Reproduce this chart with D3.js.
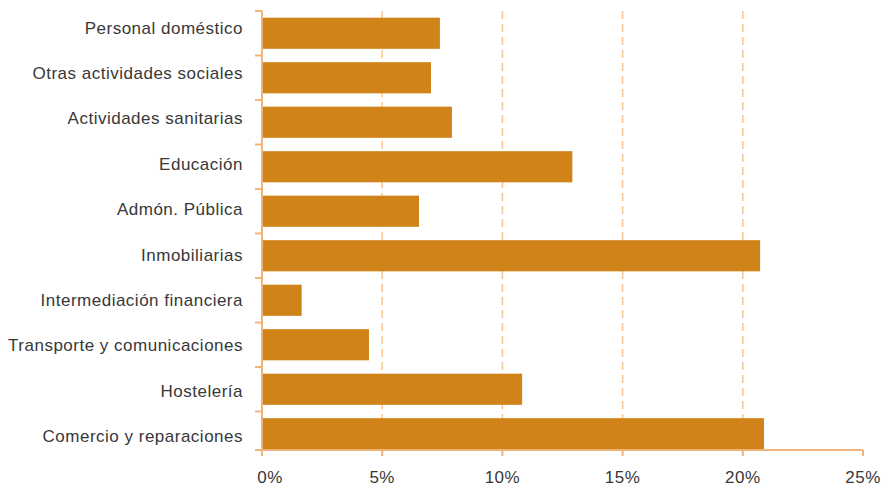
<!DOCTYPE html>
<html>
<head>
<meta charset="utf-8">
<script src="https://cdn.jsdelivr.net/npm/d3@7/dist/d3.min.js"></script>
<style>
  html, body { margin: 0; padding: 0; background: #ffffff; }
  svg { display: block; }
  text { font-family: "Liberation Sans", Arial, sans-serif; fill: #383838; }
</style>
</head>
<body>
<svg id="chart" width="885" height="487"></svg>
<script>
const categories = [
  "Personal doméstico",
  "Otras actividades sociales",
  "Actividades sanitarias",
  "Educación",
  "Admón. Pública",
  "Inmobiliarias",
  "Intermediación financiera",
  "Transporte y comunicaciones",
  "Hostelería",
  "Comercio y reparaciones"
];
const values = [7.40, 7.03, 7.90, 12.91, 6.53, 20.72, 1.65, 4.45, 10.82, 20.88];
const xTicks = [0, 5, 10, 15, 20, 25];
const xTickLabels = ["0%", "5%", "10%", "15%", "20%", "25%"];

(function () {
const svg = d3.select("#chart");
const plotLeft = 262, plotRight = 863, plotTop = 11, axisY = 450, bandBottom = 456;

const x = d3.scaleLinear().domain([0, 25]).range([plotLeft, plotRight]);
const y = d3.scaleBand().domain(categories).range([plotTop, bandBottom])
  .paddingInner(0.3).paddingOuter(0.15);
// label rows in the source are spaced slightly differently from the bars
const yLabel = d3.scaleBand().domain(categories).range([5, 459]);

const axisColor = "#f0b479";
const gridColor = "#f5c899";
const barColor = "#cf8318";

// gridlines
svg.append("g").selectAll("line")
  .data(xTicks.filter(d => d > 0 && d < 25))
  .join("line")
  .attr("x1", d => x(d)).attr("x2", d => x(d))
  .attr("y1", plotTop).attr("y2", axisY)
  .attr("stroke", gridColor).attr("stroke-width", 1.6)
  .attr("stroke-dasharray", "8,5");

// bars
svg.append("g").selectAll("rect")
  .data(categories)
  .join("rect")
  .attr("x", x(0))
  .attr("y", d => y(d))
  .attr("width", (d, i) => x(values[i]) - x(0))
  .attr("height", y.bandwidth())
  .attr("fill", barColor);

// y axis line and ticks
const yAxisG = svg.append("g");
yAxisG.append("line")
  .attr("x1", plotLeft).attr("x2", plotLeft)
  .attr("y1", plotTop).attr("y2", axisY)
  .attr("stroke", axisColor).attr("stroke-width", 2);
const yTickPos = categories.map(c => y(c) - y.step() * y.paddingInner() / 2).concat([axisY]);
yAxisG.selectAll("line.tick")
  .data(yTickPos)
  .join("line").attr("class", "tick")
  .attr("x1", plotLeft - 7).attr("x2", plotLeft)
  .attr("y1", d => d).attr("y2", d => d)
  .attr("stroke", axisColor).attr("stroke-width", 2);

// y labels
svg.append("g").selectAll("text")
  .data(categories)
  .join("text")
  .attr("x", plotLeft - 19)
  .attr("y", d => yLabel(d) + yLabel.bandwidth() / 2)
  .attr("dy", "0.35em")
  .attr("text-anchor", "end")
  .attr("font-size", 17)
  .attr("letter-spacing", 0.5)
  .text(d => d);

// x axis
const xAxisG = svg.append("g");
xAxisG.append("line")
  .attr("x1", plotLeft).attr("x2", plotRight)
  .attr("y1", axisY).attr("y2", axisY)
  .attr("stroke", axisColor).attr("stroke-width", 2);
xAxisG.selectAll("line.tick")
  .data(xTicks)
  .join("line").attr("class", "tick")
  .attr("x1", d => x(d)).attr("x2", d => x(d))
  .attr("y1", axisY).attr("y2", axisY + 6)
  .attr("stroke", axisColor).attr("stroke-width", 2);
xAxisG.selectAll("text")
  .data(xTicks)
  .join("text")
  .attr("x", d => x(d))
  .attr("dx", (d, i) => i === 0 ? 8 : 0)
  .attr("y", 483)
  .attr("text-anchor", "middle")
  .attr("font-size", 17)
  .attr("letter-spacing", 0.5)
  .text((d, i) => xTickLabels[i]);
})();
</script>
</body>
</html>
